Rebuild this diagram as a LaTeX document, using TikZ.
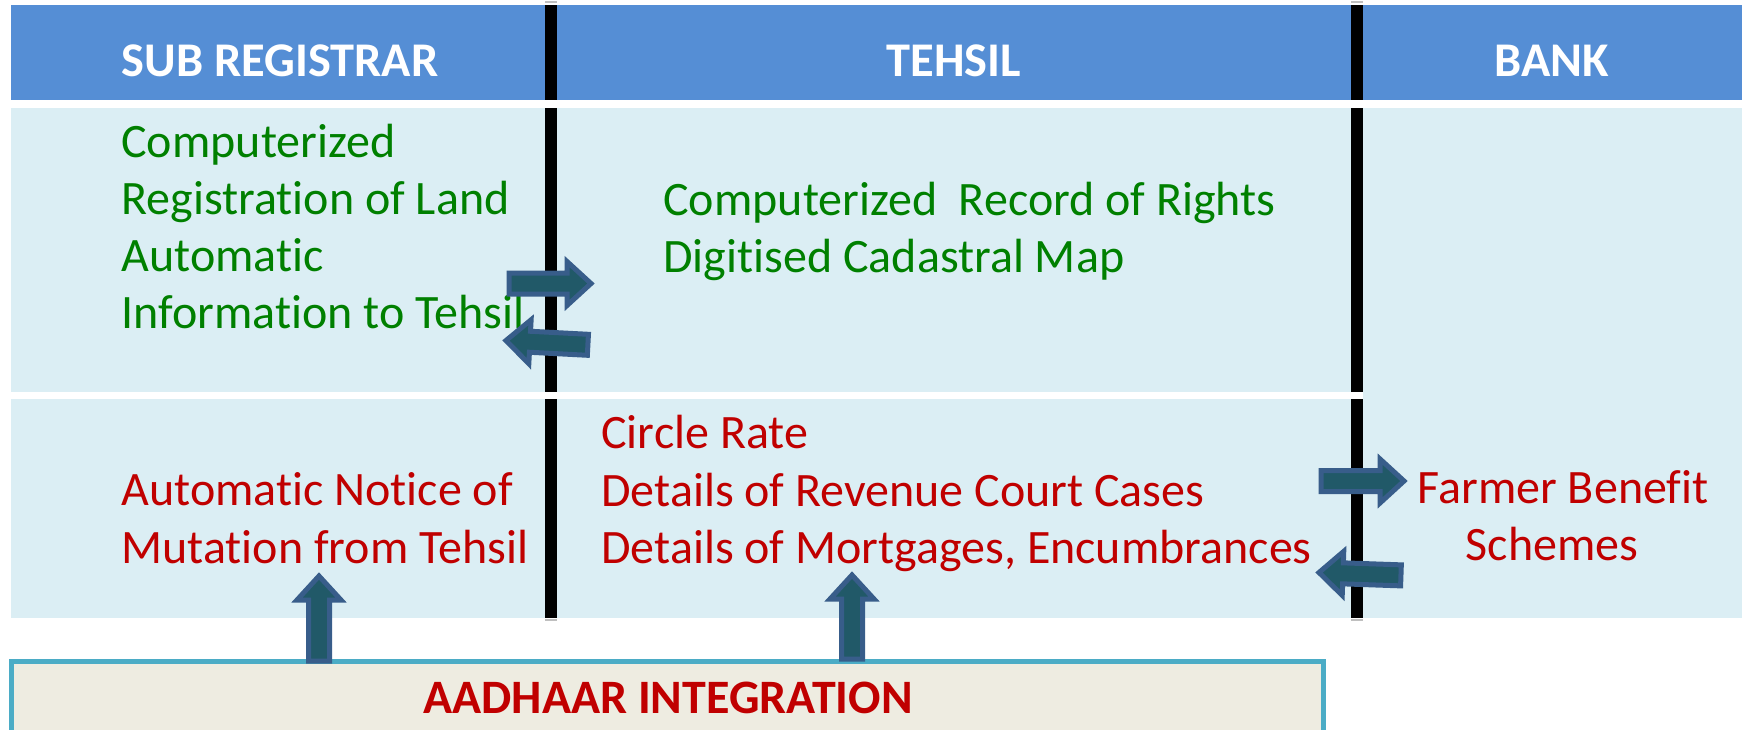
\documentclass[tikz,border=0pt]{standalone}
\usepackage{fontspec}
\setmainfont{Carlito}[Ligatures=NoCommon]
\definecolor{hdrblue}{HTML}{558ED5}
\definecolor{cellblue}{HTML}{DBEEF4}
\definecolor{txtgreen}{HTML}{008000}
\definecolor{txtred}{HTML}{C00000}
\definecolor{arrfill}{HTML}{215968}
\definecolor{arrline}{HTML}{385D8A}
\definecolor{boxfill}{HTML}{EEECE1}
\definecolor{boxline}{HTML}{4BACC6}
\newcommand{\blockarrow}[3]{%
  \begin{scope}[shift={#1},rotate=#2]
    \draw[barrow] (-#3,-10.5) -- (-24,-10.5) -- (-24,-22) -- (0,0) -- (-24,22) -- (-24,10.5) -- (-#3,10.5) -- cycle;
  \end{scope}}
\begin{document}
\begin{tikzpicture}[x=0.5pt,y=-0.5pt,
  hdrtext/.style={inner sep=0pt,anchor=base,text=white,font=\fontsize{24.2}{29}\selectfont\bfseries},
  gtext/.style={inner sep=0pt,anchor=base west,text=txtgreen,font=\fontsize{24}{29}\selectfont},
  rtext/.style={inner sep=0pt,anchor=base west,text=txtred,font=\fontsize{24}{29}\selectfont},
  rctext/.style={inner sep=0pt,anchor=base,text=txtred,font=\fontsize{24}{29}\selectfont},
  bar/.style={fill=black},
  barrow/.style={fill=arrfill,draw=arrline,line width=2.5pt,line join=miter},
  tick/.style={draw=black!25,line width=0.8pt}]
\useasboundingbox (0,0) rectangle (1745,729);
\clip (0,0) rectangle (1745,729);
\fill[white] (0,0) rectangle (1745,729);
% header
\fill[hdrblue] (11,5) rectangle (1742,100);
% body cells
\fill[cellblue] (11,108) rectangle (1351,392);
\fill[cellblue] (11,399) rectangle (1351,618);
\fill[cellblue] (1363,108) rectangle (1742,618);
% black separators
\fill[bar] (545,5) rectangle (557,100);
\fill[bar] (545,108) rectangle (557,392);
\fill[bar] (545,399) rectangle (557,618);
\fill[bar] (1351,5) rectangle (1363,100);
\fill[bar] (1351,108) rectangle (1363,392);
\fill[bar] (1351,399) rectangle (1363,618);
\draw[tick] (545,2) -- (557,2);
\draw[tick] (1351,2) -- (1363,2);
\draw[tick] (545,620) -- (557,620);
\draw[tick] (1351,620) -- (1363,620);
% header texts
\node[hdrtext] (hsub) at (280,76) {SUB REGISTRAR};
\node[hdrtext] (hteh) at (954,76) {TEHSIL};
\node[hdrtext] (hbank) at (1552,76) {BANK};
% row 1
\node[gtext] (g1) at (121,157) {Computerized};
\node[gtext] (g2) at (121,214) {Registration of Land};
\node[gtext] (g3) at (121,271) {Automatic};
\node[gtext] (g4) at (121,328) {Information to Tehsil};
\node[gtext] (g5) at (663,215) {Computerized\ \ Record of Rights};
\node[gtext] (g6) at (663,272) {Digitised Cadastral Map};
% row 2
\node[rtext] (r1) at (121,505) {Automatic Notice of};
\node[rtext] (r2) at (121,563) {Mutation from Tehsil};
\node[rtext] (r3) at (601,448) {Circle Rate};
\node[rtext] (r4) at (601,506) {Details of Revenue Court Cases};
\node[rtext] (r5) at (601,563) {Details of Mortgages, Encumbrances};
\node[rctext] (r6) at (1563,503) {Farmer Benefit};
\node[rctext] (r7) at (1552,560) {Schemes};
% Aadhaar box
\draw[fill=boxfill,draw=boxline,line width=2.5pt] (11.5,661.5) rectangle (1323,760);
\node[inner sep=0pt,anchor=base,text=txtred,font=\fontsize{24}{29}\selectfont\bfseries] (aad) at (668,713) {AADHAAR INTEGRATION};
% block arrows
\blockarrow{(591,283.5)}{0}{82}
\blockarrow{(506,340.5)}{177}{82}
\blockarrow{(1404,481)}{0}{83}
\blockarrow{(1319,572.5)}{178}{82}
\blockarrow{(319,576)}{90}{85}
\blockarrow{(852,575)}{90}{84}
\end{tikzpicture}
\end{document}
